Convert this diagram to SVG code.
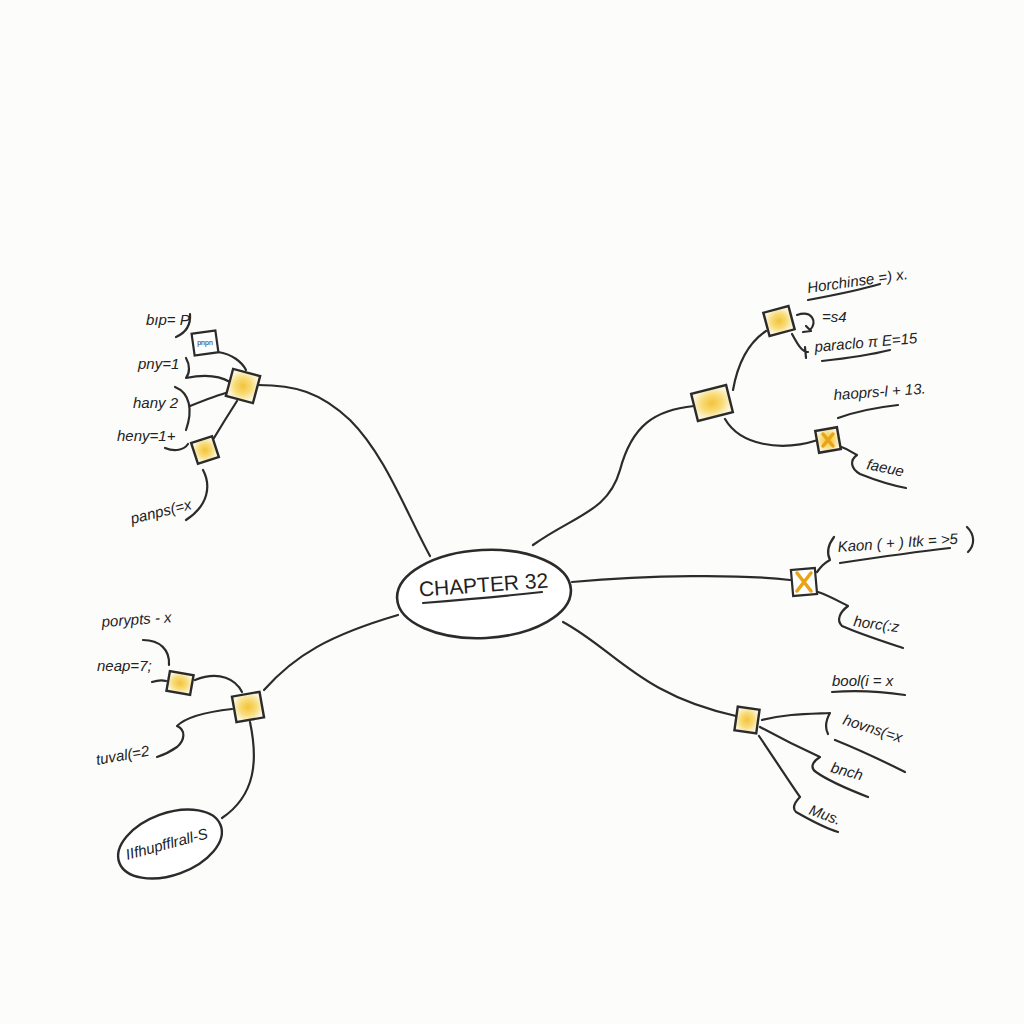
<svg xmlns="http://www.w3.org/2000/svg" width="1024" height="1024" viewBox="0 0 1024 1024">
<defs>
<radialGradient id="yel" cx="50%" cy="50%" r="55%">
<stop offset="0" stop-color="#f3c33a"/>
<stop offset="0.55" stop-color="#f8dc7a"/>
<stop offset="1" stop-color="#fdf6dc"/>
</radialGradient>
<style>
.ln{fill:none;stroke:#2b2b2b;stroke-width:2.2;stroke-linecap:round;stroke-linejoin:round}
.bx{fill:url(#yel);stroke:#2b2b2b;stroke-width:2.4}
.wb{fill:#fff;stroke:#2b2b2b;stroke-width:2.2}
.t{font-family:"Liberation Sans","DejaVu Sans",sans-serif;font-style:italic;font-size:15px;fill:#222}
.xm{fill:none;stroke:#e8a317;stroke-width:3.5;stroke-linecap:round}
</style>
</defs>
<rect width="1024" height="1024" fill="#fcfcfa"/>

<g id="connectors">
<path class="ln" d="M430,556 C405,510 385,455 350,420 C320,392 295,385 258,385"/>
<path class="ln" d="M533,545 C575,515 608,512 620,470 C632,425 655,410 694,406"/>
<path class="ln" d="M572,582 C650,575 740,574 790,580"/>
<path class="ln" d="M563,622 C615,650 640,695 736,716"/>
<path class="ln" d="M398,615 C330,635 295,655 264,690"/>
<!-- A branch -->
<path class="ln" d="M218,352 C232,354 242,362 246,370"/>
<path class="ln" d="M186,358 C190,365 190,373 186,378 C205,374 220,376 230,382"/>
<path class="ln" d="M190,406 C205,400 218,395 229,392"/>
<path class="ln" d="M237,401 C228,415 220,428 214,438"/>
<path class="ln" d="M190,314 C191,326 185,333 176,337"/>
<path class="ln" d="M175,387 C190,393 193,410 186,430"/>
<path class="ln" d="M165,448 C175,452 184,450 188,444"/>
<path class="ln" d="M203,470 C211,485 209,505 186,520"/>
<!-- B branch -->
<path class="ln" d="M733,390 C738,362 748,343 766,331"/>
<path class="ln" d="M725,419 C740,445 780,452 818,440"/>
<path class="ln" d="M797,315 C812,310 818,322 810,330"/>
<path class="ln" d="M806,326 L811,331 L803,332"/>
<path class="ln" d="M792,334 C798,345 802,352 808,352 M805,347 L806,358"/>
<path class="ln" d="M822,361 C850,358 870,355 890,350"/>
<path class="ln" d="M808,300 C835,295 860,290 880,284"/>
<path class="ln" d="M838,418 C860,410 880,407 898,405"/>
<path class="ln" d="M839,446 C848,449 853,453 857,455 C850,460 850,468 860,474 C875,480 890,485 906,488"/>
<!-- X branch -->
<path class="ln" d="M817,572 C822,565 826,562 830,560 C826,552 828,545 834,537"/>
<path class="ln" d="M840,563 C880,557 915,552 950,548"/>
<path class="ln" d="M967,527 C975,535 975,545 968,552"/>
<path class="ln" d="M818,592 C830,596 840,602 848,606 C840,612 836,620 842,626 C860,634 885,642 903,648"/>
<!-- D branch -->
<path class="ln" d="M832,692 C860,690 885,692 905,695"/>
<path class="ln" d="M762,720 C785,714 805,714 830,713 C826,720 825,728 828,734"/>
<path class="ln" d="M835,740 C860,750 885,762 905,772"/>
<path class="ln" d="M760,727 C780,738 800,748 820,757 C812,762 810,768 816,772 C830,782 850,790 868,797"/>
<path class="ln" d="M759,736 C772,755 788,780 800,797 C795,802 792,808 796,812 C810,820 825,828 838,832"/>
<!-- E branch -->
<path class="ln" d="M195,680 C220,670 236,680 242,692"/>
<path class="ln" d="M143,640 C160,640 170,650 169,665"/>
<path class="ln" d="M152,682 C158,680 163,680 166,681"/>
<path class="ln" d="M232,709 C205,712 185,718 177,726 C186,730 185,740 177,747 C170,752 163,755 157,757"/>
<path class="ln" d="M250,722 C258,760 256,795 222,818"/>
</g>

<g id="center">
<ellipse cx="484" cy="594" rx="87" ry="44" transform="rotate(-3 484 594)" fill="#fff" stroke="#2b2b2b" stroke-width="2.6"/>
<text x="484" y="592" text-anchor="middle" font-family="Liberation Sans, DejaVu Sans, sans-serif" font-size="21" fill="#222" transform="rotate(-4 484 592)">CHAPTER 32</text>
<path class="ln" d="M423,603 C460,600 505,596 542,592"/>
</g>

<g id="nodeA">
<rect class="bx" x="-14" y="-14" width="28" height="28" transform="translate(243,386) rotate(15)"/>
</g>
<g id="nodeA1">
<rect class="wb" x="-12" y="-11" width="24" height="22" transform="translate(205,343) rotate(-8)"/>
<text x="205" y="345" text-anchor="middle" font-family="Liberation Sans, sans-serif" font-size="7" fill="#222" stroke="none">pnpn</text>
</g>
<g id="nodeA2">
<rect class="bx" x="-11" y="-11" width="22" height="22" transform="translate(205,450) rotate(-18)"/>
</g>
<g id="labelsA">
<text class="t" x="146" y="325" font-size="14">bıp= P</text>
<text class="t" x="138" y="369" font-size="14">pny=1</text>
<text class="t" x="133" y="408" font-size="14">hany 2</text>
<text class="t" x="117" y="441" font-size="14">heny=1+</text>
<text class="t" x="132" y="524" font-size="14" transform="rotate(-14 132 524)">panps(=x</text>
</g>

<g id="nodeB">
<rect class="bx" x="-18" y="-14" width="36" height="28" transform="translate(712,403) rotate(-14)"/>
</g>
<g id="nodeB1">
<rect class="bx" x="-13" y="-12" width="26" height="24" transform="translate(779,321) rotate(-15)"/>
</g>
<g id="nodeB2">
<rect class="bx" x="-11" y="-11" width="22" height="22" transform="translate(828,440) rotate(-10)"/>
<path class="xm" d="M823,434 L833,446 M833,434 L823,446"/>
</g>
<g id="labelsB">
<text class="t" x="808" y="293" transform="rotate(-8 808 293)">Horchinse =) x.</text>
<text class="t" x="822" y="322" font-size="11">=s4</text>
<text class="t" x="815" y="352" transform="rotate(-5 815 352)">paraclo π Ε=15</text>
<text class="t" x="834" y="400" transform="rotate(-4 834 400)">haoprs-l + 13.</text>
<text class="t" x="866" y="469" transform="rotate(12 866 469)">faeue</text>
</g>

<g id="nodeX">
<rect class="wb" x="-12" y="-13" width="24" height="26" transform="translate(804,582) rotate(-5)" fill="#fdf3d8"/>
<path class="xm" d="M797,573 L811,591 M811,573 L797,591"/>
</g>
<g id="labelsX">
<text class="t" x="838" y="552" font-size="16" transform="rotate(-4 838 552)">Kaon ( + ) Itk = &gt;5</text>
<text class="t" x="853" y="626" transform="rotate(8 853 626)">horc(:z</text>
</g>

<g id="nodeD">
<rect class="bx" x="-11" y="-12" width="22" height="24" transform="translate(747,720) rotate(8)"/>
</g>
<g id="labelsD">
<text class="t" x="832" y="686" font-style="normal" font-size="16">bool(i = x</text>
<text class="t" x="842" y="724" transform="rotate(18 842 724)">hovns(=x</text>
<text class="t" x="830" y="772" transform="rotate(15 830 772)">bnch</text>
<text class="t" x="808" y="814" transform="rotate(20 808 814)">Mus.</text>
</g>

<g id="nodeE">
<rect class="bx" x="-14" y="-13" width="28" height="26" transform="translate(248,707) rotate(-10)"/>
</g>
<g id="nodeE1">
<rect class="bx" x="-12" y="-10" width="24" height="20" transform="translate(180,683) rotate(10)"/>
</g>
<g id="nodeE2">
<ellipse cx="170" cy="844" rx="54" ry="31" transform="rotate(-20 170 844)" fill="#fff" stroke="#2b2b2b" stroke-width="2.4"/>
<text class="t" x="168" y="849" text-anchor="middle" transform="rotate(-15 168 849)">IIfhupfflrall-S</text>
</g>
<g id="labelsE">
<text class="t" x="102" y="627" font-size="13" transform="rotate(-4 102 627)">porypts - x</text>
<text class="t" x="97" y="671">neap=7;</text>
<text class="t" x="97" y="765" transform="rotate(-10 97 765)">tuval(=2</text>
</g>
</svg>
